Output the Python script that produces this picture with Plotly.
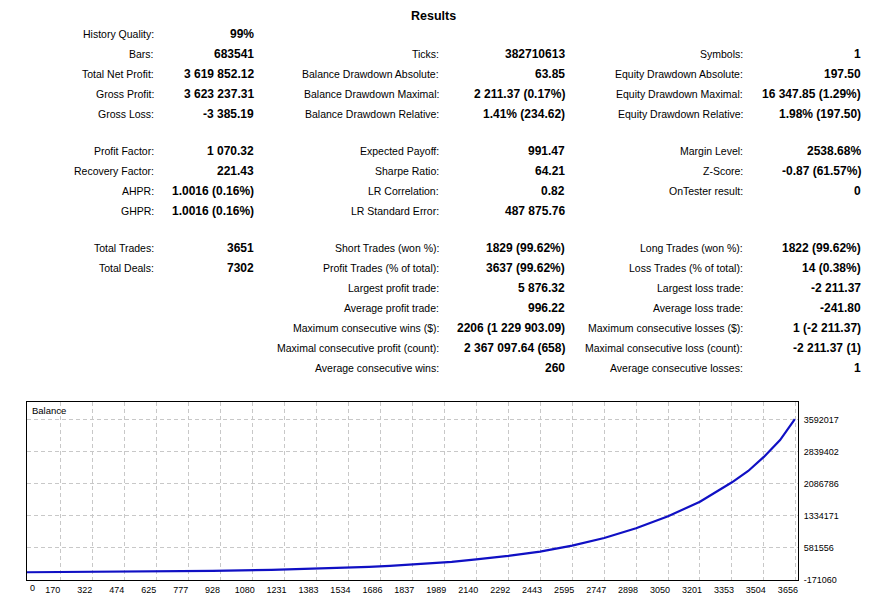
import plotly.graph_objects as go

# balance curve (trade number -> balance)
trades = [0, 356, 890, 1170, 1360, 1510, 1632, 1731, 1817, 1893, 1959, 2024,
          2140, 2292, 2443, 2595, 2747, 2822, 2898, 3050, 3201, 3353, 3430,
          3504, 3581, 3651]
balance = [10000, 21700, 45000, 68400, 91800, 115000, 138500, 162000, 185000,
           208700, 232000, 255400, 313800, 393300, 493800, 634000, 814000,
           924000, 1041000, 1322000, 1665000, 2120000, 2385000, 2715000,
           3111000, 3600000]

x_ticks = [170, 322, 474, 625, 777, 928, 1080, 1231, 1383, 1534, 1686, 1837, 1989,
           2140, 2292, 2443, 2595, 2747, 2898, 3050, 3201, 3353, 3504, 3656]
y_ticks = [-171060, 581556, 1334171, 2086786, 2839402, 3592017]

# results table, one list per column; "" = empty row
col1_labels = ["History Quality:", "Bars:", "Total Net Profit:", "Gross Profit:", "Gross Loss:",
               "Profit Factor:", "Recovery Factor:", "AHPR:", "GHPR:",
               "Total Trades:", "Total Deals:", "", "", "", "", ""]
col1_values = ["99%", "683541", "3 619 852.12", "3 623 237.31", "-3 385.19",
               "1 070.32", "221.43", "1.0016 (0.16%)", "1.0016 (0.16%)",
               "3651", "7302", "", "", "", "", ""]
col2_labels = ["", "Ticks:", "Balance Drawdown Absolute:", "Balance Drawdown Maximal:",
               "Balance Drawdown Relative:",
               "Expected Payoff:", "Sharpe Ratio:", "LR Correlation:", "LR Standard Error:",
               "Short Trades (won %):", "Profit Trades (% of total):", "Largest profit trade:",
               "Average profit trade:", "Maximum consecutive wins ($):",
               "Maximal consecutive profit (count):", "Average consecutive wins:"]
col2_values = ["", "382710613", "63.85", "2 211.37 (0.17%)", "1.41% (234.62)",
               "991.47", "64.21", "0.82", "487 875.76",
               "1829 (99.62%)", "3637 (99.62%)", "5 876.32", "996.22",
               "2206 (1 229 903.09)", "2 367 097.64 (658)", "260"]
col3_labels = ["", "Symbols:", "Equity Drawdown Absolute:", "Equity Drawdown Maximal:",
               "Equity Drawdown Relative:",
               "Margin Level:", "Z-Score:", "OnTester result:", "",
               "Long Trades (won %):", "Loss Trades (% of total):", "Largest loss trade:",
               "Average loss trade:", "Maximum consecutive losses ($):",
               "Maximal consecutive loss (count):", "Average consecutive losses:"]
col3_values = ["", "1", "197.50", "16 347.85 (1.29%)", "1.98% (197.50)",
               "2538.68%", "-0.87 (61.57%)", "0", "",
               "1822 (99.62%)", "14 (0.38%)", "-2 211.37", "-241.80",
               "1 (-2 211.37)", "-2 211.37 (1)", "1"]

row_y = [34, 54, 74, 94, 114, 151, 171, 191, 211, 248, 268, 288, 308, 328, 348, 368]

# page coords of the plot area; the page body adds an 8px margin
OFF = 8
L, R, T, B = 27, 798, 402, 580
W, H = 881 - OFF, 605 - OFF
FONT = "Liberation Sans"


def px(x):
    return (x - L) / (R - L)


def py(y):
    return (B - y) / (B - T)


fig = go.Figure()
fig.add_trace(go.Scatter(
    x=trades, y=balance, mode="lines",
    line=dict(color="#1010c4", width=2.2),
    hoverinfo="skip", showlegend=False
))

annotations = []


def add_text(text, x, y, anchor="right", bold=False, size=10.5):
    if not text:
        return
    annotations.append(dict(
        text=f"<b>{text}</b>" if bold else text,
        xref="paper", yref="paper", x=px(x), y=py(y),
        xanchor=anchor, yanchor="middle", showarrow=False,
        font=dict(family=FONT, size=size, color="#000000")
    ))


# title kept just inside the top edge of the figure
add_text("Results", 433, 15.5, anchor="center", bold=True, size=12.5)
for labels, values, lx, vx in [(col1_labels, col1_values, 156, 256),
                               (col2_labels, col2_values, 441, 567),
                               (col3_labels, col3_values, 745, 863)]:
    for lab, val, y in zip(labels, values, row_y):
        add_text(lab, lx, y)
        add_text(val, vx, y, bold=True, size=12)

add_text("Balance", 30, 410, anchor="left", size=9.5)
add_text("0", 28, 588, anchor="left", size=9)

fig.update_layout(
    width=W, height=H,
    margin=dict(l=L - OFF, r=W - (R - OFF), t=T - OFF, b=H - (B - OFF)),
    paper_bgcolor="white", plot_bgcolor="white",
    annotations=annotations,
    font=dict(family=FONT, size=9, color="#000000"),
)
fig.update_xaxes(
    range=[10, 3666], tickvals=x_ticks, ticktext=[str(v) for v in x_ticks],
    showgrid=True, gridcolor="#c8c8c8", griddash="4px,3px", gridwidth=1,
    showline=True, linecolor="#000000", linewidth=1, mirror=True,
    ticks="", ticklabelshift=-8, ticklabelstandoff=1, zeroline=False,
    automargin=False, tickfont=dict(family=FONT, size=9)
)
fig.update_yaxes(
    range=[-171060, 4002300], tickvals=y_ticks, ticktext=[str(v) for v in y_ticks],
    side="right", showgrid=True, gridcolor="#c8c8c8", griddash="4px,3px", gridwidth=1,
    showline=True, linecolor="#000000", linewidth=1, mirror=True,
    ticks="", ticklabelstandoff=3, zeroline=False,
    automargin=False, tickfont=dict(family=FONT, size=9)
)

fig.write_html("out.html")
